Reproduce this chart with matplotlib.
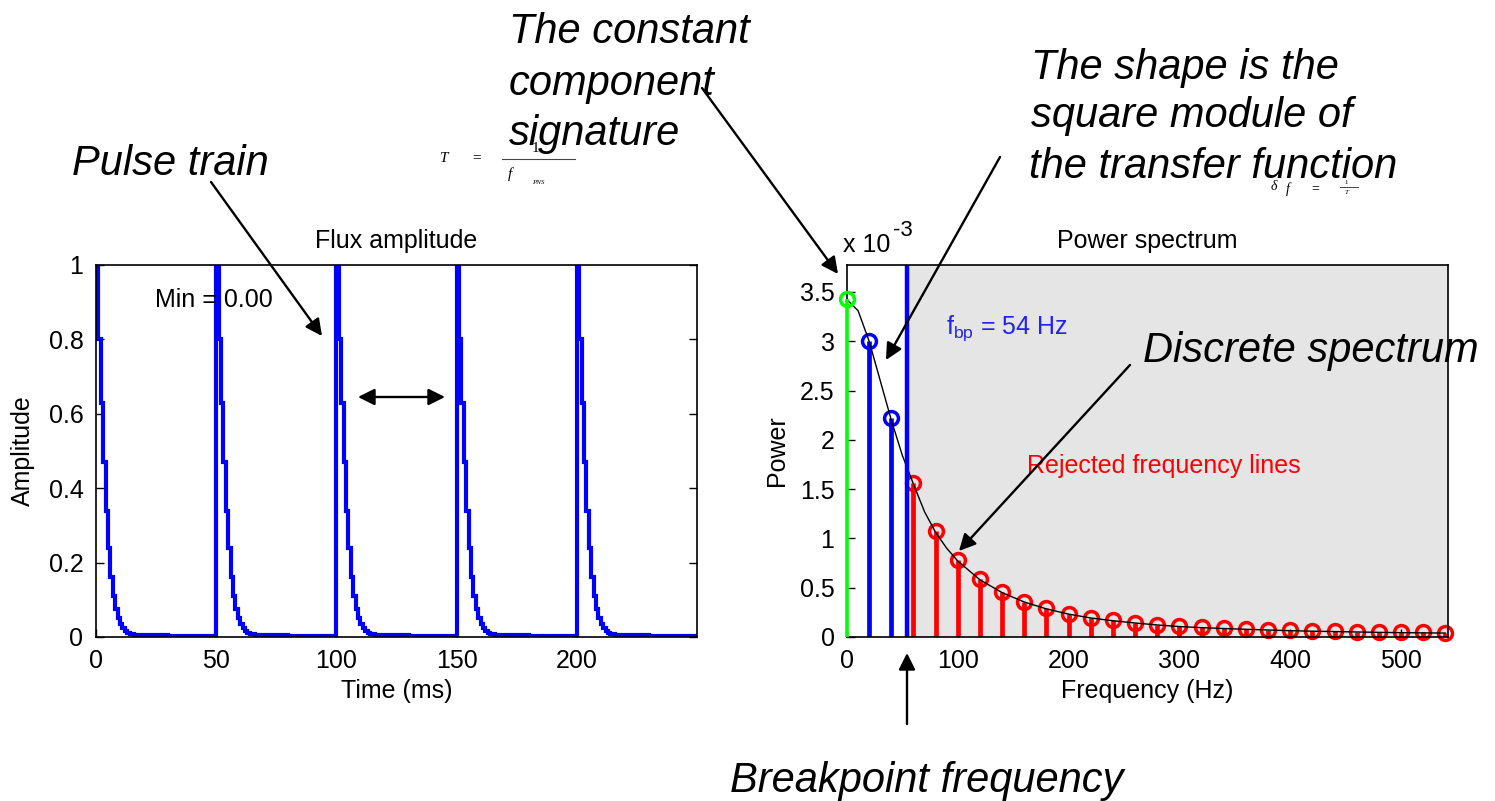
import numpy as np
import matplotlib
matplotlib.use("Agg")
import matplotlib.pyplot as plt
from matplotlib.patches import FancyArrowPatch
from matplotlib.lines import Line2D
from matplotlib.ticker import FuncFormatter

plt.rcParams['font.family'] = ['Liberation Sans', 'DejaVu Sans']

# ---------------- data ----------------
pulse_starts_ms = [0, 50, 100, 150, 200]
pulse_period_ms = 50
pulse_shape = [1.0, 0.80, 0.63, 0.47, 0.34, 0.24, 0.16, 0.11, 0.075, 0.05,
               0.035, 0.025, 0.017, 0.012, 0.009, 0.007,
               0.005, 0.005, 0.005, 0.005, 0.005, 0.005, 0.005,
               0.005, 0.005, 0.005, 0.005, 0.005, 0.005, 0.005,
               0.002, 0.002, 0.002, 0.002, 0.002, 0.002, 0.002, 0.002, 0.002, 0.002,
               0.002, 0.002, 0.002, 0.002, 0.002, 0.002, 0.002, 0.002, 0.002, 0.002]

freq_dc = [0]
power_dc = [3.43]               # x 1e-3
freq_pass = [20, 40]
power_pass = [3.00, 2.22]
freq_rej = [60, 80, 100, 120, 140, 160, 180, 200, 220, 240, 260, 280, 300,
            320, 340, 360, 380, 400, 420, 440, 460, 480, 500, 520, 540]
power_rej = [1.56, 1.08, 0.78, 0.59, 0.46, 0.36, 0.29, 0.235, 0.195, 0.17,
             0.145, 0.125, 0.107, 0.097, 0.088, 0.080, 0.074, 0.066, 0.062,
             0.058, 0.052, 0.050, 0.048, 0.046, 0.044]
curve_f = [0, 10, 20, 30, 40, 50, 60, 70, 80, 90, 100, 120, 140, 160, 180, 200,
           220, 240, 260, 280, 300, 320, 340, 360, 380, 400, 420, 440, 460,
           480, 500, 520, 540]
curve_p = [3.42, 3.31, 3.00, 2.60, 2.20, 1.84, 1.55, 1.27, 1.06, 0.90, 0.77,
           0.58, 0.45, 0.355, 0.285, 0.232, 0.193, 0.165, 0.142, 0.122, 0.106,
           0.095, 0.086, 0.078, 0.071, 0.064, 0.059, 0.055, 0.051, 0.047,
           0.044, 0.042, 0.040]
f_bp = 54

left_xticks = [0, 50, 100, 150, 200]
left_yticks = [0, 0.2, 0.4, 0.6, 0.8, 1]
right_xticks = [0, 100, 200, 300, 400, 500]
right_yticks = [0, 0.5, 1, 1.5, 2, 2.5, 3, 3.5]

# ---------------- figure ----------------
W, H = 1495, 801
fig = plt.figure(figsize=(W / 100, H / 100), dpi=100)
fig.patch.set_facecolor('white')


def fp(x, y):
    return (x / W, 1 - y / H)


gfmt = FuncFormatter(lambda v, p: '%g' % v)
TICK_FS = 18

# ---- left axes: pulse train ----
ax1 = fig.add_axes([96 / W, 1 - 637 / H, 601 / W, 372 / H])
t = []
a = []
for s in pulse_starts_ms:
    for k, v in enumerate(pulse_shape):
        t.append(s + k)
        a.append(v)
t.append(pulse_starts_ms[-1] + pulse_period_ms)
a.append(pulse_shape[-1])
ax1.plot(t, a, color='#0000ff', lw=3.0, drawstyle='steps-post', solid_joinstyle='miter')
ax1.set_xlim(0, 250)
ax1.set_ylim(0, 1)
ax1.set_xticks(left_xticks)
ax1.set_yticks(left_yticks)
ax1.xaxis.set_major_formatter(gfmt)
ax1.yaxis.set_major_formatter(gfmt)
ax1.tick_params(direction='in', length=6, width=1, top=True, right=True,
                labelsize=TICK_FS, pad=9)
ax1.set_title('Flux amplitude', fontsize=TICK_FS, pad=12)
ax1.set_xlabel('Time (ms)', fontsize=TICK_FS, labelpad=4)
ax1.set_ylabel('Amplitude', fontsize=TICK_FS, labelpad=10)
ax1.text(24.5, 0.905, 'Min = 0.00', fontsize=TICK_FS, va='center', ha='left')
for sp in ax1.spines.values():
    sp.set_linewidth(1.2)

# ---- right axes: power spectrum ----
ax2 = fig.add_axes([847 / W, 1 - 637 / H, 601 / W, 372 / H])
xmax = 542.4
ymax = 1.1 * max(power_dc)
ax2.axvspan(f_bp, xmax, color='#e5e5e5', zorder=0, lw=0)
ax2.vlines(freq_dc, 0, power_dc, color='#00ff00', lw=2.6, zorder=8, clip_on=False)
ax2.vlines(freq_pass, 0, power_pass, color='#0000ff', lw=3.4, zorder=2)
ax2.vlines(freq_rej, 0, power_rej, color='#ff0000', lw=3.4, zorder=2)
ax2.plot(freq_dc, power_dc, 'o', mfc='none', mec='#00ff00', ms=10, mew=2.5, zorder=8, clip_on=False)
ax2.plot(freq_pass, power_pass, 'o', mfc='none', mec='#0000ff', ms=10, mew=2.5, zorder=3)
ax2.plot(freq_rej, power_rej, 'o', mfc='none', mec='#ff0000', ms=10, mew=2.5, zorder=3, clip_on=False)
ax2.plot(curve_f, curve_p, color='black', lw=1.0, zorder=4)
ax2.axvline(f_bp, color='#0000ff', lw=3.2, zorder=5)
ax2.set_xlim(0, xmax)
ax2.set_ylim(0, ymax)
ax2.set_xticks(right_xticks)
ax2.set_yticks(right_yticks)
ax2.xaxis.set_major_formatter(gfmt)
ax2.yaxis.set_major_formatter(gfmt)
ax2.tick_params(direction='in', length=6, width=1, labelsize=TICK_FS, pad=9)
ax2.set_title('Power spectrum', fontsize=TICK_FS, pad=12)
ax2.set_xlabel('Frequency (Hz)', fontsize=TICK_FS, labelpad=4)
ax2.set_ylabel('Power', fontsize=TICK_FS, labelpad=8)
ax2.text(89, 3.13, r'$\mathregular{f_{bp}}$ = 54 Hz', fontsize=TICK_FS,
         color='#2222ee', va='center', ha='left', zorder=6)
ax2.text(162, 1.73, 'Rejected frequency lines', fontsize=TICK_FS,
         color='#ff0000', va='center', ha='left', zorder=6)
for sp in ax2.spines.values():
    sp.set_linewidth(1.2)
    sp.set_zorder(7)
fig.text(*fp(843, 252), 'x 10', fontsize=TICK_FS, ha='left', va='baseline')
fig.text(*fp(893, 236), '-3', fontsize=16, ha='left', va='baseline')

# ---- annotation texts ----
ANN_FS = 30
ann_lines = [
    ('Pulse train', 72, 175),
    ('The constant', 509, 43),
    ('component', 509, 95),
    ('signature', 509, 145),
    ('The shape is the', 1031, 79),
    ('square module of', 1031, 127),
    ('the transfer function', 1029, 178),
    ('Discrete spectrum', 1143, 362),
    ('Breakpoint frequency', 730, 792),
]
for s, x, y in ann_lines:
    fig.text(*fp(x, y), s, fontsize=ANN_FS, style='italic', ha='left', va='baseline')

# ---- small formulas ----
SERIF = ['Liberation Serif', 'DejaVu Serif']
fig.text(*fp(440, 158), 'T', fontsize=11, style='italic', family=SERIF, va='center', ha='left')
fig.text(*fp(472, 158), '=', fontsize=11, family=SERIF, va='center', ha='left')
fig.text(*fp(535, 149), '1', fontsize=11, family=SERIF, va='center', ha='center')
fig.add_artist(Line2D([502 / W, 575 / W], [1 - 159 / H, 1 - 159 / H], color='#444444', lw=0.8))
fig.text(*fp(508, 174), 'f', fontsize=11, style='italic', family=SERIF, va='center', ha='left')
fig.text(*fp(532, 182), 'PNS', fontsize=5, style='italic', family=SERIF, va='center', ha='left')

fig.text(*fp(1271, 187), 'δ', fontsize=10, style='italic', family=SERIF, va='center', ha='left')
fig.text(*fp(1286, 189), 'f', fontsize=10, style='italic', family=SERIF, va='center', ha='left')
fig.text(*fp(1311, 189), '=', fontsize=10, family=SERIF, va='center', ha='left')
fig.text(*fp(1346, 183), '1', fontsize=5, family=SERIF, va='center', ha='center')
fig.add_artist(Line2D([1340 / W, 1358 / W], [1 - 187 / H, 1 - 187 / H], color='#444444', lw=0.7))
fig.text(*fp(1346, 193), 'T', fontsize=5, style='italic', family=SERIF, va='center', ha='center')

# ---- arrows ----
def arrow(p0, p1, style='-|>'):
    fig.add_artist(FancyArrowPatch(fp(*p0), fp(*p1), transform=fig.transFigure,
                                   arrowstyle=style, mutation_scale=25, lw=1.7,
                                   color='black', shrinkA=0, shrinkB=0, zorder=10))


arrow((211, 182), (322, 336))
arrow((358, 397), (445, 397), '<|-|>')
arrow((702, 88), (838, 274))
arrow((1000, 157), (886, 360))
arrow((1130, 365), (959, 551))
arrow((907, 724), (907, 653))

fig.savefig('out.png', dpi=100, facecolor='white')
